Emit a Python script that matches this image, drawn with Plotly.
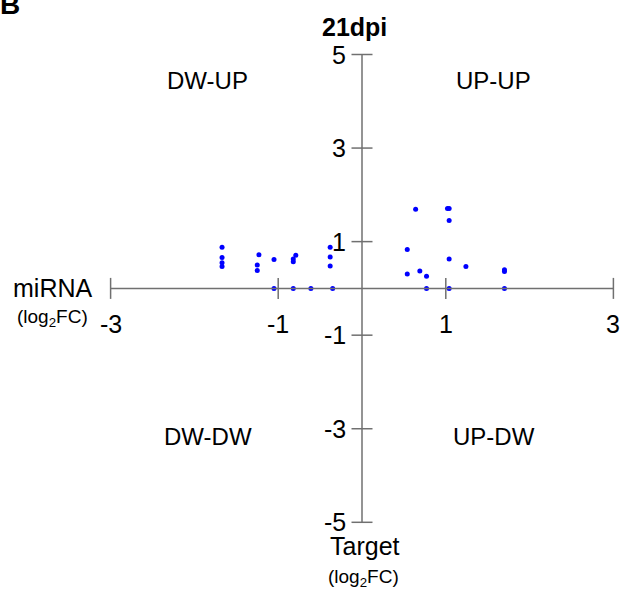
import plotly.graph_objects as go

# Data
target_fc = [-1.67, -1.67, -1.67, -1.67,
             -1.23, -1.25, -1.25,
             -1.05, -1.05,
             -0.82, -0.82, -0.79, -0.82,
             -0.61,
             -0.38, -0.38, -0.38, -0.35,
             0.64, 1.02, 1.04, 1.04, 0.54, 1.04, 1.24, 1.70, 1.70,
             0.54, 0.69, 0.77, 0.77, 1.04, 1.70]
mirna_fc = [0.88, 0.66, 0.55, 0.47,
            0.72, 0.50, 0.38,
            0.62, 0.0,
            0.63, 0.57, 0.71, 0.0,
            0.0,
            0.88, 0.67, 0.48, 0.0,
            1.69, 1.71, 1.71, 1.45, 0.83, 0.63, 0.47, 0.40, 0.36,
            0.31, 0.37, 0.26, 0.0, 0.0, 0.0]

x_ticks = [-3, -1, 1, 3]
y_ticks = [5, 3, 1, -1, -3, -5]
quadrant_labels = ["DW-UP", "UP-UP", "DW-DW", "UP-DW"]
title_text = "21dpi"

W, H = 621, 589
X0, XU = 362.0, 83.8   # pixel of x=0, pixels per unit
Y0, YU = 288.4, 46.78  # pixel of y=0, pixels per unit
FONT = "Liberation Sans, Arial, sans-serif"
AX = "#707070"

fig = go.Figure()
fig.add_trace(go.Scatter(x=target_fc, y=mirna_fc, mode="markers",
                         marker=dict(color="#0000ff", size=5, line=dict(width=0)),
                         hoverinfo="x+y"))

shapes = []
# axes
shapes.append(dict(type="line", x0=min(x_ticks), x1=max(x_ticks), y0=0, y1=0,
                   line=dict(color=AX, width=1.5)))
shapes.append(dict(type="line", x0=0, x1=0, y0=min(y_ticks), y1=max(y_ticks),
                   line=dict(color=AX, width=1.5)))
tx = 10.5 / XU
ty = 10.5 / YU
for v in x_ticks:
    shapes.append(dict(type="line", x0=v, x1=v, y0=-ty, y1=ty,
                       line=dict(color=AX, width=1.5)))
for v in y_ticks:
    shapes.append(dict(type="line", x0=-tx, x1=tx, y0=v, y1=v,
                       line=dict(color=AX, width=1.5)))

ann = []
for v in x_ticks:
    ann.append(dict(x=v, y=0, xref="x", yref="y", text=f"{v}", showarrow=False,
                    xanchor="center", yanchor="middle",
                    yshift=-36, font=dict(size=25, color="black", family=FONT)))
for v in y_ticks:
    ann.append(dict(x=0, y=v, xref="x", yref="y", text=f"{v}", showarrow=False,
                    xanchor="right", yanchor="middle", xshift=-14,
                    font=dict(size=25, color="black", family=FONT)))

qpos = [(-1.84, 4.455), (1.575, 4.455), (-1.84, -3.17), (1.575, -3.17)]
for t, (qx, qy) in zip(quadrant_labels, qpos):
    ann.append(dict(x=qx, y=qy, xref="x", yref="y", text=t, showarrow=False,
                    xanchor="center", yanchor="middle",
                    font=dict(size=24, color="black", family=FONT)))

def P(px, py):
    return px / W, 1 - py / H

def paper_text(px, py, text, size, xanchor="center", yanchor="middle"):
    x, y = P(px, py)
    ann.append(dict(x=x, y=y, xref="paper", yref="paper", text=text, showarrow=False,
                    xanchor=xanchor, yanchor=yanchor,
                    font=dict(size=size, color="black", family=FONT)))

paper_text(354, 27, f"<b>{title_text}</b>", 25)
paper_text(-2, 22, "<b>B</b>", 28, xanchor="left", yanchor="bottom")
paper_text(52, 288, "miRNA", 25)
paper_text(52, 318, "(log<sub>2</sub>FC)", 19)
paper_text(365, 546, "Target", 25)
paper_text(363, 578, "(log<sub>2</sub>FC)", 19)

fig.update_layout(
    width=W, height=H,
    margin=dict(l=0, r=0, t=0, b=0),
    paper_bgcolor="white", plot_bgcolor="white",
    showlegend=False,
    xaxis=dict(range=[-X0 / XU, (W - X0) / XU], visible=False, fixedrange=True),
    yaxis=dict(range=[-(H - Y0) / YU, Y0 / YU], visible=False, fixedrange=True),
    shapes=shapes, annotations=ann,
)
fig.write_html("out.html", config={"displayModeBar": False},
               post_script="document.body.style.margin='0';document.body.style.overflow='hidden';")
